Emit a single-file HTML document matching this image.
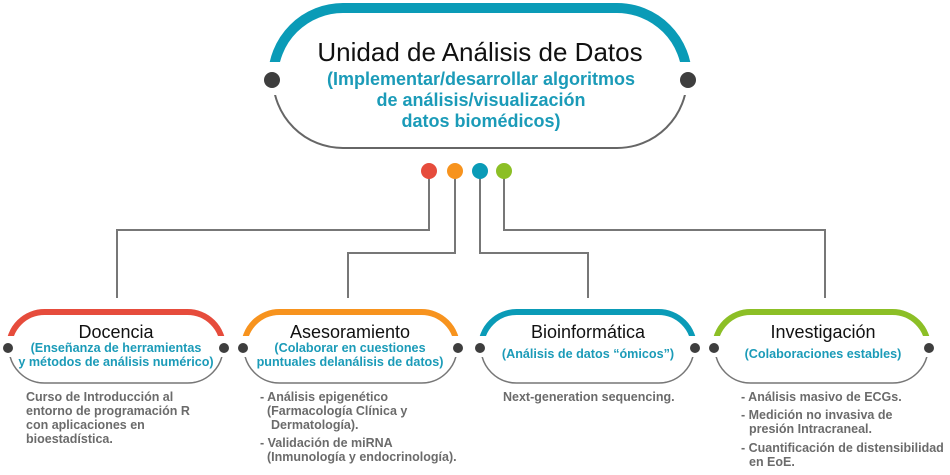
<!DOCTYPE html>
<html><head><meta charset="utf-8"><style>
html,body{margin:0;padding:0;background:#fff;}
svg{display:block;font-family:"Liberation Sans",sans-serif;}
.t{font-weight:normal;fill:#111;text-anchor:middle;}
.s{fill:#1b9bb8;text-anchor:middle;font-weight:bold;}
.b{fill:#6b6b6b;font-size:12.5px;font-weight:bold;}
</style></head><body>
<svg width="950" height="475" viewBox="0 0 950 475">
<defs>
<clipPath id="topc"><rect x="0" y="0" width="950" height="62"/></clipPath>
<clipPath id="botc"><rect x="0" y="95" width="950" height="60"/></clipPath>
<clipPath id="st"><rect x="0" y="290" width="950" height="46"/></clipPath>
<clipPath id="sb"><rect x="0" y="357" width="950" height="40"/></clipPath>
</defs>
<rect x="273" y="8" width="414" height="140" rx="70" fill="none" stroke="#0a9bb7" stroke-width="10" clip-path="url(#topc)"/>
<rect x="273" y="8" width="414" height="140" rx="70" fill="none" stroke="#666" stroke-width="2" clip-path="url(#botc)"/>
<circle cx="272" cy="80" r="8" fill="#3e3e3e"/><circle cx="688" cy="80" r="8" fill="#3e3e3e"/>
<text x="480" y="61" class="t" font-size="26">Unidad de Análisis de Datos</text>
<text x="481" y="85" class="s" font-size="18">(Implementar/desarrollar algoritmos</text>
<text x="481" y="106" class="s" font-size="18">de análisis/visualización</text>
<text x="481" y="127" class="s" font-size="18">datos biomédicos)</text>
<g fill="none" stroke="#777" stroke-width="2">
<path d="M429 171 V230 H117 V298"/>
<path d="M455 171 V253 H348 V298"/>
<path d="M480 171 V253 H588 V298"/>
<path d="M504 171 V230 H825 V298"/>
</g>
<circle cx="429" cy="171" r="8" fill="#e64c3c"/>
<circle cx="455" cy="171" r="8" fill="#f7931e"/>
<circle cx="480" cy="171" r="8" fill="#0a9bb7"/>
<circle cx="504" cy="171" r="8" fill="#8cbf26"/>
<g fill="none" stroke-width="6" clip-path="url(#st)">
<rect x="9" y="312" width="214" height="71" rx="35.5" stroke="#e64c3c"/>
<rect x="244" y="312" width="213" height="71" rx="35.5" stroke="#f7931e"/>
<rect x="481" y="312" width="213" height="71" rx="35.5" stroke="#0a9bb7"/>
<rect x="715" y="312" width="213" height="71" rx="35.5" stroke="#8cbf26"/>
</g>
<g fill="none" stroke="#777" stroke-width="1.5" clip-path="url(#sb)">
<rect x="9" y="312" width="214" height="71" rx="35.5"/>
<rect x="244" y="312" width="213" height="71" rx="35.5"/>
<rect x="481" y="312" width="213" height="71" rx="35.5"/>
<rect x="715" y="312" width="213" height="71" rx="35.5"/>
</g>
<g fill="#3e3e3e">
<circle cx="8" cy="348" r="5"/><circle cx="224" cy="348" r="5"/>
<circle cx="243" cy="348" r="5"/><circle cx="458" cy="348" r="5"/>
<circle cx="480" cy="348" r="5"/><circle cx="695" cy="348" r="5"/>
<circle cx="714" cy="348" r="5"/><circle cx="929" cy="348" r="5"/>
</g>
<text x="116" y="338" class="t" font-size="18">Docencia</text>
<text x="116" y="352" class="s" font-size="12.6">(Enseñanza de herramientas</text>
<text x="116" y="366" class="s" font-size="12.6">y métodos de análisis numérico)</text>
<text x="350" y="338" class="t" font-size="18">Asesoramiento</text>
<text x="350" y="352" class="s" font-size="12.6">(Colaborar en cuestiones</text>
<text x="350" y="366" class="s" font-size="12.6">puntuales delanálisis de datos)</text>
<text x="588" y="338" class="t" font-size="18">Bioinformática</text>
<text x="588" y="358" class="s" font-size="12.6">(Análisis de datos “ómicos”)</text>
<text x="823" y="338" class="t" font-size="18">Investigación</text>
<text x="823" y="358" class="s" font-size="12.6">(Colaboraciones estables)</text>
<g class="b">
<text x="26" y="401">Curso de Introducción al</text>
<text x="26" y="415">entorno de programación R</text>
<text x="26" y="429">con aplicaciones en</text>
<text x="26" y="443">bioestadística.</text>
<text x="260" y="401">- Análisis epigenético</text>
<text x="267" y="415">(Farmacología Clínica y</text>
<text x="271" y="429">Dermatología).</text>
<text x="260" y="447">- Validación de miRNA</text>
<text x="267" y="461">(Inmunología y endocrinología).</text>
<text x="503" y="401">Next-generation sequencing.</text>
<text x="741" y="401">- Análisis masivo de ECGs.</text>
<text x="741" y="419">- Medición no invasiva de</text>
<text x="749" y="433">presión Intracraneal.</text>
<text x="741" y="452">- Cuantificación de distensibilidad</text>
<text x="749" y="466">en EoE.</text>
</g>
</svg>
</body></html>
